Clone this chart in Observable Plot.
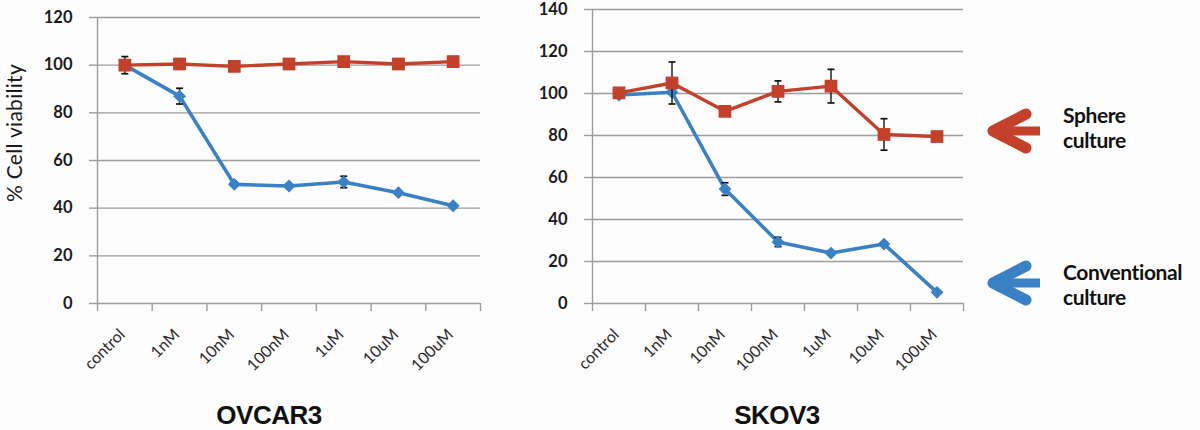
<!DOCTYPE html>
<html>
<head>
<meta charset="utf-8">
<script src="https://cdn.jsdelivr.net/npm/d3@7"></script>
<script src="https://cdn.jsdelivr.net/npm/@observablehq/plot@0.6"></script>
<style>
  html, body { margin: 0; padding: 0; background: #fdfdfd; }
  #wrap { position: relative; width: 1200px; height: 430px; overflow: hidden; background: #fdfdfd; font-family: Lato, "Open Sans", sans-serif; }
  .panel { position: absolute; top: 0; }
  .ttl { position: absolute; font-family: "Liberation Sans", Arial, sans-serif; font-weight: 900; font-size: 26px; color: #111; transform: translateX(-50%); white-space: nowrap; letter-spacing: -0.5px; }
  #ylab { position: absolute; left: 13px; top: 133px; transform: translate(-50%, -50%) rotate(-90deg); font-family: Lato, sans-serif; font-size: 21px; line-height: 1; color: #1a1a1a; white-space: nowrap; letter-spacing: 0.3px; }
  #anno { position: absolute; left: 0; top: 0; }
</style>
</head>
<body>
<div id="wrap">
  <div id="left" class="panel" style="left:0px"></div>
  <div id="right" class="panel" style="left:490px"></div>
  <div id="ylab">% Cell viability</div>
  <div class="ttl" style="left:269px; top:400px">OVCAR3</div>
  <div class="ttl" style="left:777px; top:400px">SKOV3</div>
  <svg id="anno" width="1200" height="430"></svg>
</div>
<script>
// ---- data ----
const categories = ["control", "1nM", "10nM", "100nM", "1uM", "10uM", "100uM"];

const ovcarSphere    = [100, 100.5, 99.5, 100.5, 101.5, 100.5, 101.5];
const ovcarSphereErr = [3.6, 0.8, 0.8, 0.8, 0.8, 0.8, 0.8];
const ovcarConv      = [100, 87, 50, 49.3, 51, 46.5, 41];
const ovcarConvErr   = [0.5, 3.3, 0.8, 0.8, 2.4, 0.8, 0.8];

const skovSphere     = [100.3, 105, 91.5, 101, 103.5, 80.5, 79.5];
const skovSphereErr  = [2, 10, 0.8, 5, 8, 7.5, 0.8];
const skovConv       = [99.3, 100.6, 54.5, 29.3, 24, 28.3, 5.3];
const skovConvErr    = [0.5, 0.8, 3, 2.2, 0.8, 0.8, 0.8];

const ovcarTicks = [0, 20, 40, 60, 80, 100, 120];
const skovTicks  = [0, 20, 40, 60, 80, 100, 120, 140];

const legendLabels = [["Sphere", "culture"], ["Conventional", "culture"]];

// ---- styles ----
const RED = "#c3412b";
const BLUE = "#3a80c4";
const GRID = "#9c9c9c";

const cap = { draw(ctx) { ctx.moveTo(-3.5, 0); ctx.lineTo(3.5, 0); } };

function rows(vals, errs) {
  return vals.map((v, i) => ({ idx: i + 0.5, cat: categories[i], v, lo: v - errs[i], hi: v + errs[i] }));
}

function errorMarks(d) {
  return [
    Plot.ruleX(d, { x: "idx", y1: "lo", y2: "hi", stroke: "#111", strokeWidth: 1.4 }),
    Plot.dot(d, { x: "idx", y: "hi", symbol: cap, stroke: "#111", strokeWidth: 1.7 }),
    Plot.dot(d, { x: "idx", y: "lo", symbol: cap, stroke: "#111", strokeWidth: 1.7 })
  ];
}

function panel({ sphere, sphereErr, conv, convErr, ticks, width, marginLeft, marginTop }) {
  const s = rows(sphere, sphereErr);
  const c = rows(conv, convErr);
  const cats = categories.map((cat, i) => ({ idx: i + 0.5, cat }));
  const yMax = ticks[ticks.length - 1];
  return Plot.plot({
    width, height: 380,
    marginLeft, marginRight: 10, marginTop, marginBottom: 77,
    style: { background: "transparent", overflow: "visible" },
    x: { domain: [0, categories.length], axis: null },
    y: { domain: [0, yMax], axis: null },
    marks: [
      Plot.gridY(ticks, { stroke: GRID, strokeOpacity: 1, strokeWidth: 1.4 }),
      Plot.axisY(ticks, { tickSize: 8, stroke: GRID, strokeWidth: 1.4, tickPadding: 17, fontSize: 16.5, fontWeight: "bold", fill: "#1a1a1a", fontFamily: "Lato, sans-serif", label: null }),
      Plot.ruleX([0], { stroke: GRID, strokeWidth: 1.4 }),
      Plot.axisX(d3.range(categories.length + 1), { tickSize: 8, stroke: GRID, strokeWidth: 1.4, tickFormat: () => "", label: null }),
      Plot.text(cats, { x: "idx", text: "cat", frameAnchor: "bottom", textAnchor: "end", lineAnchor: "bottom", rotate: -45, dy: 32, dx: 1, fontSize: 16, fill: "#2a2a2a", fontFamily: "Lato, sans-serif" }),
      Plot.line(c, { x: "idx", y: "v", stroke: BLUE, strokeWidth: 3.6, strokeLinejoin: "round" }),
      Plot.line(s, { x: "idx", y: "v", stroke: RED, strokeWidth: 3.4, strokeLinejoin: "round" }),
      ...errorMarks(c),
      Plot.dot(c, { x: "idx", y: "v", symbol: "diamond2", r: 5.8, fill: BLUE, stroke: null }),
      ...errorMarks(s),
      Plot.dot(s, { x: "idx", y: "v", symbol: "square", r: 7.2, fill: RED, stroke: null })
    ]
  });
}

document.getElementById("left").appendChild(panel({
  sphere: ovcarSphere, sphereErr: ovcarSphereErr, conv: ovcarConv, convErr: ovcarConvErr,
  ticks: ovcarTicks, width: 490, marginLeft: 97, marginTop: 17
}));
document.getElementById("right").appendChild(panel({
  sphere: skovSphere, sphereErr: skovSphereErr, conv: skovConv, convErr: skovConvErr,
  ticks: skovTicks, width: 483, marginLeft: 102, marginTop: 9
}));

// ---- annotation arrows + labels ----
const anno = d3.select("#anno");
const arrows = [{ y: 131, color: RED, lines: legendLabels[0], base: 123 }, { y: 283, color: BLUE, lines: legendLabels[1], base: 280 }];
for (const a of arrows) {
  anno.append("path").attr("d", `M1040,${a.y}L996,${a.y}`).attr("stroke", a.color).attr("stroke-width", 9).attr("fill", "none");
  anno.append("path").attr("d", `M1026,${a.y - 17}L993,${a.y}L1026,${a.y + 17}`).attr("stroke", a.color).attr("stroke-width", 11)
    .attr("stroke-linecap", "round").attr("stroke-linejoin", "round").attr("fill", "none");
  a.lines.forEach((t, k) => {
    anno.append("text").attr("x", 1063).attr("y", a.base + k * 25).text(t)
      .attr("font-family", "Lato, sans-serif").attr("font-weight", "bold").attr("font-size", 21)
      .attr("letter-spacing", "-0.4").attr("fill", "#111");
  });
}
</script>
</body>
</html>
